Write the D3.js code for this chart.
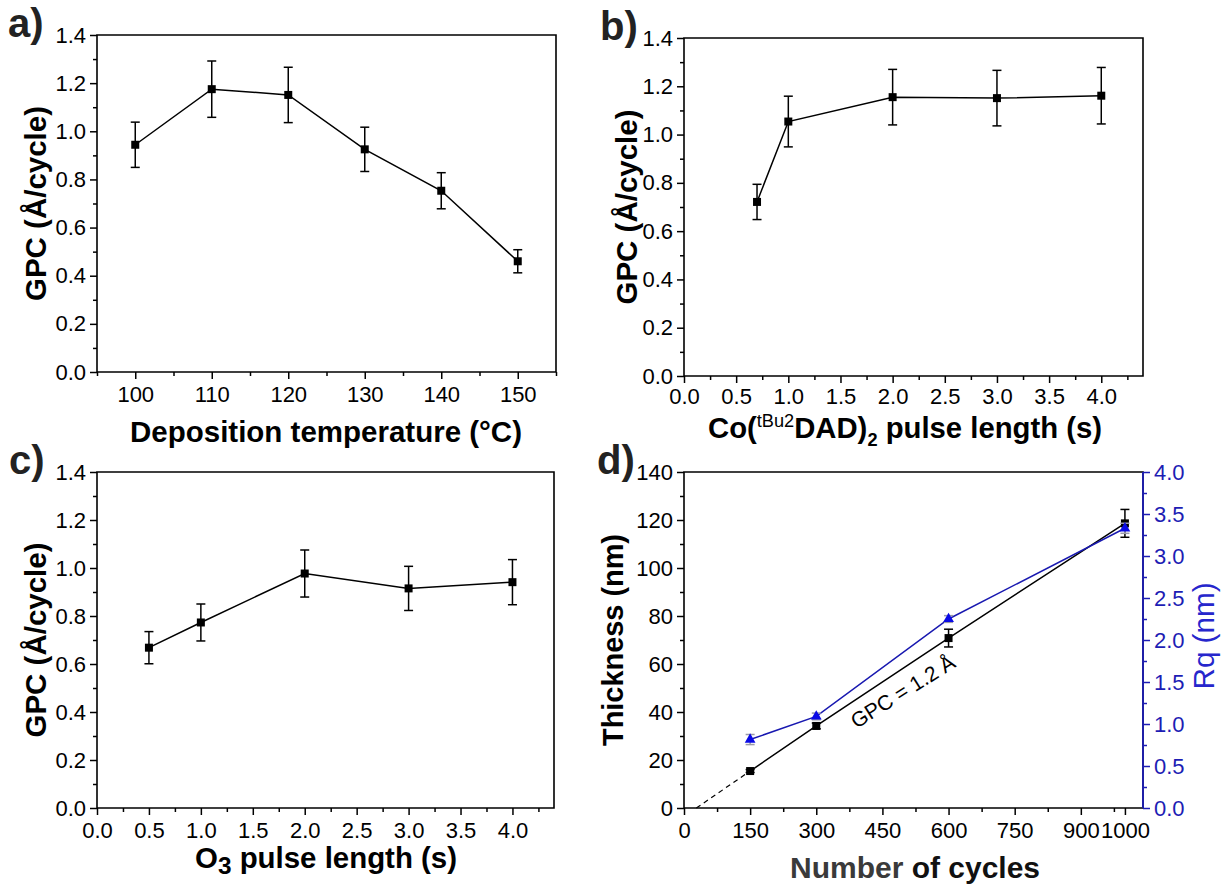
<!DOCTYPE html>
<html lang="en">
<head>
<meta charset="utf-8">
<title>GPC vs. deposition parameters</title>
<script src="https://cdn.jsdelivr.net/npm/d3@7"></script>
<style>
body { margin: 0; background: #fff; }
svg { font-family: "Liberation Sans", Arial, sans-serif; }
</style>
</head>
<body>
<script>

// a) deposition temperature
var tempX = [100, 110, 120, 130, 140, 150];
var tempGPC = [0.944, 1.175, 1.151, 0.925, 0.753, 0.460];
var tempErr = [0.094, 0.117, 0.115, 0.092, 0.075, 0.048];

// b) Co precursor pulse
var coPulseX = [0.7, 1.0, 2.0, 3.0, 4.0];
var coPulseGPC = [0.721, 1.054, 1.155, 1.151, 1.161];
var coPulseErr = [0.073, 0.105, 0.115, 0.115, 0.117];

// c) O3 pulse
var o3PulseX = [0.5, 1.0, 2.0, 3.0, 4.0];
var o3PulseGPC = [0.668, 0.773, 0.977, 0.915, 0.941];
var o3PulseErr = [0.067, 0.077, 0.098, 0.092, 0.094];

// d) thickness and roughness vs cycles
var cycles = [150, 300, 600, 1000];
var thickness = [15.4, 34.2, 70.8, 118.6];
var thicknessErr = [0.6, 1.2, 3.7, 5.8];
var roughness = [0.815, 1.09, 2.25, 3.33];
var roughnessErr = [0.06, 0.04, 0.04, 0.06];
var fitX = [28, 150];
var fitY = [0, 15.4];

var gpcTicks = [0, 0.2, 0.4, 0.6, 0.8, 1.0, 1.2, 1.4];
var gpcMinor = d3.range(0.1, 1.4, 0.2);
var tempTicks = [100, 110, 120, 130, 140, 150];
var tempMinor = [95, 105, 115, 125, 135, 145, 155];
var pulseTicks = d3.range(0, 4.01, 0.5);
var pulseMinor = d3.range(0.25, 4.4, 0.5);
var cycleTicks = [0, 150, 300, 450, 600, 750, 900, 1000];
var cycleMinor = [75, 225, 375, 525, 675, 825, 975];
var thickTicks = d3.range(0, 141, 20);
var thickMinor = d3.range(10, 140, 20);
var rqTicks = d3.range(0, 4.01, 0.5);
var rqMinor = d3.range(0.25, 4, 0.5);

var blue = "#1d1db4";

var svg = d3.select("body").append("svg")
  .attr("width", 1224)
  .attr("height", 886);

function styleAxis(g, color) {
  g.select(".domain").remove();
  g.attr("color", color || "#000")
   .attr("font-size", 22)
   .attr("font-family", "Liberation Sans, Arial, sans-serif");
  g.selectAll(".tick line").attr("stroke-width", 1.5);
}

// bold title, squeezed or stretched to the width seen in the figure
function title(g, x, y, len, rotate) {
  var t = g.append("text")
    .attr("transform", "translate(" + x + "," + y + ")" + (rotate ? " rotate(-90)" : ""))
    .attr("text-anchor", "middle").attr("font-size", 29).attr("font-weight", "bold")
    .attr("textLength", len).attr("lengthAdjust", "spacingAndGlyphs");
  return t;
}

function drawPanel(p) {
  var g = svg.append("g");
  var x = d3.scaleLinear().domain(p.xDomain).range([p.left, p.right]);
  var y = d3.scaleLinear().domain(p.yDomain).range([p.bottom, p.top]);

  g.append("g").attr("transform", "translate(0," + p.bottom + ")")
    .call(d3.axisBottom(x).tickValues(p.xMinor).tickSize(4).tickFormat(""))
    .call(styleAxis);
  g.append("g").attr("transform", "translate(0," + p.bottom + ")")
    .call(d3.axisBottom(x).tickValues(p.xTicks).tickSize(7).tickPadding(p.xPad || 7).tickFormat(d3.format(p.xFmt)))
    .call(styleAxis);
  g.append("g").attr("transform", "translate(" + p.left + ",0)")
    .call(d3.axisLeft(y).tickValues(p.yMinor).tickSize(4).tickFormat(""))
    .call(styleAxis);
  g.append("g").attr("transform", "translate(" + p.left + ",0)")
    .call(d3.axisLeft(y).tickValues(p.yTicks).tickSize(7).tickPadding(4).tickFormat(d3.format(p.yFmt)))
    .call(styleAxis);

  // frame
  g.append("path")
    .attr("d", "M" + p.left + "," + p.top + "H" + p.right + "V" + p.bottom + "H" + p.left + "Z")
    .attr("fill", "none").attr("stroke", "#000").attr("stroke-width", 1.6);

  // panel letter
  g.append("text").attr("x", p.labelX).attr("y", p.top + 2)
    .attr("font-size", 40).attr("font-weight", "bold").attr("fill", "#222").text(p.letter);

  // y title
  title(g, p.left - p.yTitleOff, (p.top + p.bottom) / 2, p.yTitleLen, true).text(p.yTitle);

  return {g: g, x: x, y: y};
}

function drawSeries(g, x, y, xs, ys, es, opts) {
  var pts = xs.map(function(v, i) { return {x: v, y: ys[i], e: es[i]}; });
  var color = opts.color || "#000";
  g.append("path").datum(pts)
    .attr("fill", "none").attr("stroke", color).attr("stroke-width", 1.5)
    .attr("d", d3.line().x(function(d) { return x(d.x); }).y(function(d) { return y(d.y); }));
  var eb = g.append("g").attr("stroke", opts.errColor || color).attr("stroke-width", 1.5);
  eb.selectAll("line.v").data(pts).enter().append("line")
    .attr("x1", function(d) { return x(d.x); }).attr("x2", function(d) { return x(d.x); })
    .attr("y1", function(d) { return y(d.y - d.e); }).attr("y2", function(d) { return y(d.y + d.e); });
  [1, -1].forEach(function(s) {
    eb.selectAll("line.c" + s).data(pts).enter().append("line")
      .attr("x1", function(d) { return x(d.x) - 4.5; }).attr("x2", function(d) { return x(d.x) + 4.5; })
      .attr("y1", function(d) { return y(d.y + s * d.e); }).attr("y2", function(d) { return y(d.y + s * d.e); });
  });
  if (opts.triangle) {
    g.selectAll("path.tri").data(pts).enter().append("path")
      .attr("d", d3.symbol().type(d3.symbolTriangle).size(50))
      .attr("transform", function(d) { return "translate(" + x(d.x) + "," + y(d.y) + ")"; })
      .attr("fill", "#0a0ae6");
  } else {
    g.selectAll("rect.sq").data(pts).enter().append("rect")
      .attr("x", function(d) { return x(d.x) - 4; }).attr("y", function(d) { return y(d.y) - 4; })
      .attr("width", 8).attr("height", 8).attr("fill", "#000");
  }
}

// a)
var pa = drawPanel({
  left: 97, right: 556, top: 35, bottom: 372,
  xDomain: [95, 155], yDomain: [0, 1.4],
  xTicks: tempTicks, xMinor: tempMinor, xFmt: "d",
  yTicks: gpcTicks, yMinor: gpcMinor, yFmt: ".1f",
  letter: "a)", labelX: 8, yTitle: "GPC (Å/cycle)", yTitleOff: 51, yTitleLen: 195
});
drawSeries(pa.g, pa.x, pa.y, tempX, tempGPC, tempErr, {});
title(pa.g, 326, 442, 392).text("Deposition temperature (°C)");

// b)
var pb = drawPanel({
  left: 684, right: 1143, top: 38, bottom: 376,
  xDomain: [0, 4.4], yDomain: [0, 1.4],
  xTicks: pulseTicks, xMinor: pulseMinor, xFmt: ".1f", xPad: 5,
  yTicks: gpcTicks, yMinor: gpcMinor, yFmt: ".1f",
  letter: "b)", labelX: 600, yTitle: "GPC (Å/cycle)", yTitleOff: 47, yTitleLen: 195
});
drawSeries(pb.g, pb.x, pb.y, coPulseX, coPulseGPC, coPulseErr, {});
var tb = title(pb.g, 905, 438, 394);
tb.append("tspan").text("Co(");
tb.append("tspan").attr("dy", -11).attr("font-size", 18).attr("font-weight", "normal").text("tBu2");
tb.append("tspan").attr("dy", 11).text("DAD)");
tb.append("tspan").attr("dy", 8).attr("font-size", 18).text("2");
tb.append("tspan").attr("dy", -8).text(" pulse length (s)");

// c)
var pc = drawPanel({
  left: 97, right: 554, top: 472, bottom: 808,
  xDomain: [0, 4.4], yDomain: [0, 1.4],
  xTicks: pulseTicks, xMinor: pulseMinor, xFmt: ".1f",
  yTicks: gpcTicks, yMinor: gpcMinor, yFmt: ".1f",
  letter: "c)", labelX: 9, yTitle: "GPC (Å/cycle)", yTitleOff: 51, yTitleLen: 195
});
drawSeries(pc.g, pc.x, pc.y, o3PulseX, o3PulseGPC, o3PulseErr, {});
var tc = title(pc.g, 326, 868, 262);
tc.append("tspan").text("O");
tc.append("tspan").attr("dy", 6).attr("font-size", 24).text("3");
tc.append("tspan").attr("dy", -6).text(" pulse length (s)");

// d)
var pd = drawPanel({
  left: 684, right: 1143, top: 472, bottom: 808,
  xDomain: [0, 1041], yDomain: [0, 140],
  xTicks: cycleTicks, xMinor: cycleMinor, xFmt: "d",
  yTicks: thickTicks, yMinor: thickMinor, yFmt: "d",
  letter: "d)", labelX: 597, yTitle: "Thickness (nm)", yTitleOff: 61, yTitleLen: 212
});
var yRq = d3.scaleLinear().domain([0, 4]).range([808, 472]);

// dashed extrapolation of the linear fit
pd.g.append("path").datum(fitX.map(function(v, i) { return [v, fitY[i]]; }))
  .attr("fill", "none").attr("stroke", "#000").attr("stroke-width", 1.2).attr("stroke-dasharray", "5,4")
  .attr("d", d3.line().x(function(d) { return pd.x(d[0]); }).y(function(d) { return pd.y(d[1]); }));
drawSeries(pd.g, pd.x, pd.y, cycles, thickness, thicknessErr, {});
drawSeries(pd.g, pd.x, yRq, cycles, roughness, roughnessErr, {color: "#1818b0", errColor: "#9a9aa8", triangle: true});

// right axis
pd.g.append("g").attr("transform", "translate(1143,0)")
  .call(d3.axisRight(yRq).tickValues(rqMinor).tickSize(4).tickFormat(""))
  .call(styleAxis, blue);
pd.g.append("g").attr("transform", "translate(1143,0)")
  .call(d3.axisRight(yRq).tickValues(rqTicks).tickSize(7).tickPadding(4).tickFormat(d3.format(".1f")))
  .call(styleAxis, blue);
pd.g.append("line").attr("x1", 1143).attr("x2", 1143).attr("y1", 472).attr("y2", 808)
  .attr("stroke", blue).attr("stroke-width", 1.8);
pd.g.append("text").attr("transform", "translate(1214,636) rotate(-90)")
  .attr("text-anchor", "middle").attr("font-size", 30).attr("fill", "#2626cc")
  .attr("textLength", 107).attr("lengthAdjust", "spacingAndGlyphs").text("Rq (nm)");

pd.g.append("text")
  .attr("transform", "translate(" + pd.x(505) + "," + pd.y(46) + ") rotate(-32)")
  .attr("text-anchor", "middle").attr("font-size", 21).text("GPC = 1.2 Å");

var td = title(pd.g, 915, 878, 250);
td.append("tspan").attr("fill", "#3a3a3a").text("Number");
td.append("tspan").attr("fill", "#111").text(" of cycles");

</script>
</body>
</html>
